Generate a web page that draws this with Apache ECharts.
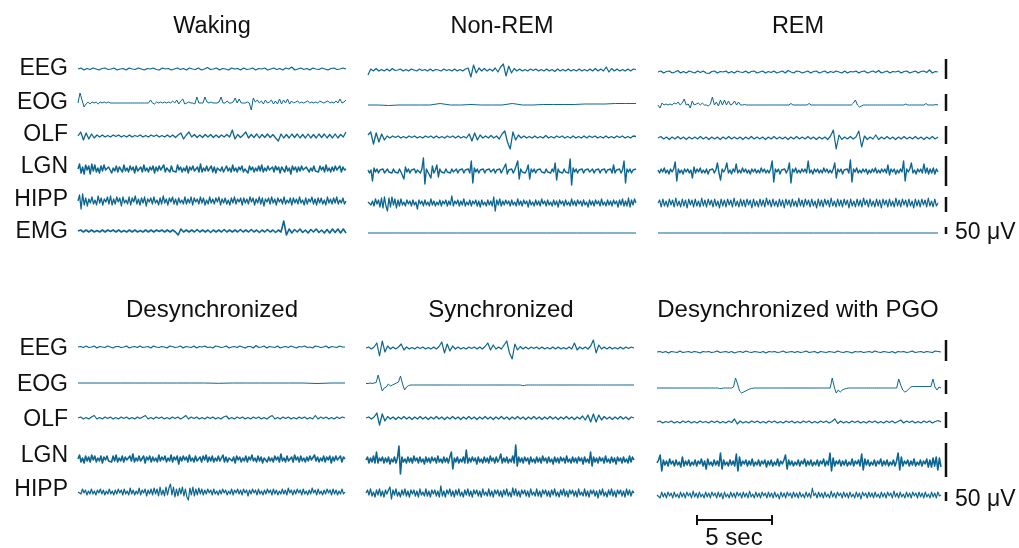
<!DOCTYPE html>
<html><head><meta charset="utf-8">
<script src="https://cdn.jsdelivr.net/npm/echarts@6.0.0/dist/echarts.min.js"></script>
<style>html,body{margin:0;padding:0;background:#fff}#c{width:1019px;height:548px}</style>
</head><body><div id="c"></div>
<script>
// ---------- DATA (amplitude units; scale bars below are in the same units) ----------
const topTitles = ['Waking', 'Non-REM', 'REM'];
const botTitles = ['Desynchronized', 'Synchronized', 'Desynchronized with PGO'];
const topChannels = ['EEG', 'EOG', 'OLF', 'LGN', 'HIPP', 'EMG'];
const botChannels = ['EEG', 'EOG', 'OLF', 'LGN', 'HIPP'];
const ampUnit = '50 \u03bcV';
const timeUnit = '5 sec';
const timeBarSec = 5;

// Waking
const W_EEG = [0,1,-1,0.5,-0.5,1,0,-1,0.5,1,-0.5,0,1,-1,0,0.5,-1,1,0,-0.5,1,0,-1,0.5,0,1,-0.5,-1,1,0,0.5,-1,0,1,-0.5,0.5,-1,1,0,-0.5,1,-1,0,1.5,-0.5,0,1,-1,0.5,0,-1,1,0,0.5,-1,1,-0.5,0,1,-1,0.5,0,1,-1,0,1,-0.5,0.5,-1,1,0,2,-1,0,1,-0.5,0.5,-1,1,0,-0.5,1,0,-1,0.5,1,-0.5,0,1,0];
const W_EOG = [0,10,3,-4,-1,1,-1,1,0,1,-1,1,0,1,0,1,0,0,0,0,0,0,0,0,0,0,0,0,0,0,0,0,0,0,0,0,3,0,-1,1,0,1,0,1,0,1,0,2,0,3,-1,2,4,-1,0,1,0,0,-1,6,0,0,0,6,1,0,1,0,0,0,1,6,0,0,2,0,0,1,5,0,4,0,0,0,1,0,-7,5,1,3,0,2,-1,3,0,1,3,-1,2,-1,4,-1,3,0,4,-1,2,0,1,2,0,1,0,1,2,0,1,0,1,0,2,1,0,1,2,0,1,0,2,0,4,0,1,3];
const W_OLF = [0,4,-4,3,-3,2,-2,1,-1,1,-1,0.5,-1,1,-0.5,1,-1,0.5,-1,1,-1,0.5,-0.5,1,-1,0.5,-1,1,-0.5,1,-1,0.5,-1,1,-1,1,-1.5,1,3,-3,1,4,-1,1.5,-1.5,1,-1.5,1.5,-1,1.5,-1.5,1,-1.5,1,-1,1.5,-1,6,-3,1.5,-1.5,1,4,-2,1.5,-1.5,2,-2,1.5,-1.5,2,-1.5,1.5,-2,-5,2,-2,1.5,-2,2,-1.5,2,-2,1.5,-2,2,-2,1.5,-2,2,-1.5,2,-2,1.5,-2,2,-2,1.5,-1,4];
const W_LGN = [0,5,-4,2,-5,4,-1,3,-5,5,-2,4,-3,1,-4,3,-2,4,-1,-3,2,3,-4,1,-2,3,-3,2,0,-3,4,-2,1,-3,3,-1,2,-4,3,-2,0,2,-3,4,-2,1,-3,2,-1,3,-4,2,-2,3,-1,-2,4,-3,1,2,-3,3,-2,0,-3,4,-1,2,-3,1,-2,3,-4,2,-1,3,-2,0,2,-3,5,-3,1,-2,3,-2,-1,3,-3,2,-4,1,3,-2,2,-3,0,3,-2,1,-3,4,-2,1,-3,2,-1,3,-3,0,2,-4,3,-1,2,-3,1,-2,3,-2,4,-3,1,-2,3,-1,-2,2,-3,3,-1,2,-4,2,0,-3,3,-2,1,-5,3,-1,2,-3,2,-2,3,-1,-3,2,4,-3,1,-2,3,-2,0,-3,3,-1,2,-3,4,-2,1,-3,2,-2,3,-1,-2,3,-3,2,-1,0];
const W_HIPP = [0,6,-8,7,-4,3,-5,2,-2,4,-3,1,-4,5,-2,3,-4,2,-1,4,-3,5,-4,2,-3,4,-1,3,-5,4,-2,1,-3,4,-4,3,-1,5,-3,2,-4,3,-2,4,-5,2,-1,3,-3,4,-2,1,-4,3,-3,5,-2,2,-4,3,-1,4,-3,2,-4,3,-2,1,-3,4,-3,2,-2,4,-4,3,-1,2,-3,4,-2,3,-4,1,-3,4,-2,2,-3,3,-1,4,-4,2,-2,3,-3,1,-4,3,-2,4,-3,2,-1,3,-4,3,-2,2,-3,4,-1,3,-4,2,-2,4,-3,3,-5,2,-1,3,-3,4,-2,2,-4,3,-1,2,-3,4,-3,1,-2,3,-4,3,-2,2,-3,4,-2,1,-4,3,-3,2,-1,4,-3,2,-4,3,-2,3,-3,1,-4,4,-2,2,-3,3,-2,4,-3,1,-2,3,-3,0];
const W_EMG = [0,1,-1,1,-1,1,-1,0.5,-1,1,-1,1,-0.5,1,-1,1,-1,0.5,-1,1,-1,1,-1,0.5,-1,1,-1,1,-1,1,-0.5,1,-1,1,-1,1,-1,-4,2,-1,1,-1,1,-1,1.5,-1,1,-1,1,-1.5,1,-1,1,-1,1.5,-1,1,-1,1,-1,1.5,-1,1,-1,1.5,-1,1,-1.5,1,-1,1.5,-1,1,-1.5,1,-1,10,-4,2,-2,1.5,-1,2,-1.5,1,-2,1.5,-1,2,-1.5,1,-2,1.5,-2,2,-1.5,2,-2,2,-2];

// Non-REM
const N_EEG = [-5,1,-1,1.5,-1,0.5,-1,1,-1,1.5,-0.5,0,1,-1,0.5,-1,1,0,-1,1,-0.5,0.5,-1,1,-1,0.5,0,-1,1,-0.5,0.5,-1,1,-1,0.5,-1,1,2,-7,5,-3,2,-1,1.5,-1,1,-1,2,-2,3,6,-6,4,-3,1.5,-1,1,-1,0.5,-1,1,-0.5,1,-1,0.5,-1,1,-1,0.5,-1.5,1,-1,0.5,-1,1,-1,0.5,-1,1,-1,0.5,-1,1,-1,1.5,-1,1,-1,3,-2,1.5,-1,1,-1,0.5,-1,1,-1,1,0.5];
const N_EOG = [0,0,-0.5,0,0,0,0,1.5,0,0,0.5,0,0,0,1.5,0,0,0.5,0.5,0.5,0.5,1,1,1,1.5,1.5,1.5];
const N_OLF = [2,5,-7,4,-5,3,-3,1,-1,1,-0.5,1,-1,0.5,-1,1,-0.5,1,-1,0.5,-1,1,-0.5,1,-1,1,-1,0.5,-1,1,-0.5,1,-1,1,-1,0.5,-1,3,-4,4,-3,2,-1,1,-1,1.5,-1,1,-2,3,6,-5,-12,5,-3,2,-1,1,-1,0.5,-1,1,-1,0.5,-1,1.5,-1,0.5,-1,1,-0.5,1,-1,0.5,-1,1,-1,0.5,-1,1,-1,1,-0.5,1,-1,0.5,-1,1,-1,0.5,-1,1,-0.5,1,-1,0.5,-1,1,0.5];
const N_LGN = [1,-2,1,-10,3,-1,2,-2,1,-1, 2,-2,0,2,-1,1,-2,2,-1,1, -2,2,-1,1,-8,4,-1,2,-2,1, -1,2,-2,1,0,-2,2,13,-13,2, -1,1,-7,5,-2,1,6,-6,2,-1, 1,-2,2,-1,1,-2,2,-1,0,2, -2,1,-1,2,-2,1,-1,2,-2,10, -12,3,-1,2,-2,1,-1,2,-2,1, -1,2,-1,0,2,-2,1,-1,2,-2, 1,-1,7,-3,1,-1,2,-2,1,-1, 10,-8,2,-1,1,-2,1,6,-8,2, -1,2,-2,1,-1,2,-1,1,-2,2, -1,1,-2,2,-1,8,-9,2,-1,1, -2,2,-1,1,-2,12,-14,3,-1,2, -2,1,-1,2,-2,1,-1,2,-1,0, 2,-2,1,-1,2,-2,1,-1,2,-2, 1,-1,2,-2,6,-2,1,-1,2,-2, 1,10,-12,2,-1,2,-2,1,-1,2];
const N_HIPP = [1,3,-2,2,-3,4,-1,3,-4,5, -5,6,-3,-8,5,-4,6,-2,4,-5, 3,-3,4,-2,1,-3,3,-1,2,-3, 3,-2,1,-6,3,-1,2,-3,3,-2, 1,-3,4,-2,2,-3,1,-2,3,-3, 2,-1,3,-3,2,-2,7,-3,2,-1, 3,-3,2,-2,4,-3,1,-2,3,-3, 2,-1,3,-3,2,-4,3,-2,1,-3, 3,-2,2,-3,6,-8,3,-2,4,-3, 2,-2,3,-1,2,-3,3,-2,1,-3, 4,-2,2,-3,3,-1,2,-4,3,-2, 1,-3,3,-2,2,-3,4,-1,2,-3, 3,-2,1,-3,3,-2,2,-4,3,-1, 2,-3,3,-2,1,-3,4,-2,2,-3, 3,-1,2,-3,3,-2,1,-4,3,-2, 2,-3,3,-1,2,-3,4,-2,1,-3, 3,-2,2,-3,3,-1,2,-4,3,-2, 4,-3,2,-3,5,-4,3,-2,4,0];
const N_EMG = [0,0,0,0,0,0,0,0,0,0];

// REM
const R_EEG = [0,1,-1,0.5,1,-1,0,1.5,-1,0.5,-1,1,0,-1,1,-0.5,1,-1,-1.5,0.5,1,-1,0.5,0,1,-1,0.5,-1,1,0,-0.5,1,-1,0.5,1,-1,0,1,-1,0.5,-0.5,1,-1,0,1,-1,1.5,0,-1,1,0.5,-1,0,1,-1,0.5,1,-1,0,1,-1,0.5,-0.5,1,0,-1,1,-1,0.5,0,1,-1,0.5,1,-1,0,1,-0.5,1.5,-1,0,1,-1,0.5,0,1,-1,0.5,1,-1,0,1,-1,0.5,1,-0.5,2,-1,0.5,0];
const R_EOG = [0,-3,2,0,1,0,1,0,2,1,3,0,2,6,0,1,-3,4,0,1,2,0,2,0,0,-1,1,8,0,3,-1,5,0,5,0,4,0,1,4,0,3,0,0,0.5,0,0,0,0,0,0,0,0,0,0,0,0,0,0,0,0,0,0,0,0,0,0,1.5,0,0,0,0,0,0,0,0,1.5,0,0,0,0,0,0,0,0,0,0,0,0,0,0,0,0,0,0,0,0,0,2,5,0,-2,-1,0,0,0,0,0,0,0,0,0,0,0,0,0,0,0,0,0,0,0,0,0,1,0,0,0,0,0,0,0,0,0,1.5,0,0,0,0,0.5,0];
const R_OLF = [0,1.5,-1,1,-1.5,1,-1,1.5,-1,1,-1.5,1,-1,1,-1,1.5,-1,1,-1.5,1,-1,1,-1.5,1,-1,1.5,-1,1,-1,1,-1.5,1,-1,1.5,-1,1,-1,1,-1.5,1,-1,1.5,-1,1,-1,1,-1.5,1,-1,1.5,-1,1,-1,1.5,-1,1,-1.5,1,-1,1,-1.5,2,8,-11,3,-1.5,1,-1,1.5,-1,1,7,-9,2,-1.5,1,-1,3,-1.5,1,-1,1.5,-1,1,-1.5,1,-1,1.5,-1,1,-1,1.5,-1,1,-1.5,1,-1,1.5,-1,1];
const R_LGN = [1,-2,2,-1,3,-2,1,-3,2,-1, 2,9,-10,2,-2,1,-3,2,-1,2, -2,1,-7,4,-2,2,-1,3,-2,1, -2,2,-3,1,-1,2,-2,1,8,-2, -9,2,-1,2,8,-2,1,-3,2,-1, 7,-2,1,-2,3,-1,2,-2,1,-3, 2,-1,2,-2,1,-2,3,-1,2,-2, 1,-2,2,10,-11,2,-1,2,-3,1, -1,2,-2,1,8,-12,2,-1,3,-2, 1,-2,2,-1,2,-2,10,-2,1,-3, 2,-1,2,-2,1,-2,3,-1,2,-2, 1,-2,2,8,-7,2,-1,2,-3,1, -1,2,-2,11,-11,2,-1,3,-2,1, -2,2,-1,2,-3,1,-2,2,-1,3, -2,1,-2,2,-1,2,-2,6,-4,2, -1,2,-3,1,-2,2,-1,10,-10,2, -1,2,8,-2,1,-3,2,-1,2,-2, 7,-2,3,-3,2,-2,3,-3,2,-1];
const R_HIPP = [0,3,-4,4,-3,2,-4,4,-2,3,-4,5,-3,2,-4,4,-3,3,-5,4,-2,3,-4,4,-3,2,-4,5,-3,3,-4,4,-2,3,-4,4,-3,2,-5,4,-3,3,-4,4,-2,3,-4,5,-3,2,-4,4,-3,3,-4,4,-2,3,-5,4,-3,2,-4,4,-3,3,-4,5,-2,3,-4,4,-3,2,-4,4,-3,3,-5,4,-2,3,-4,4,-3,2,-4,5,-3,3,-4,4,-2,3,-4,4,-3,2,-5,4,-3,3,-4,4,-2,3,-4,5,-3,2,-4,4,-3,3,-4,4,-2,3,-5,4,-3,2,-4,4,-3,3,-4,5,-2,3,-4,4,-3,2,-4,4,-3,3,-5,4,-2,3,-4,4,-3,2,-4,5,-3,3,-4,4,-2,3,-4,4,-3,2,-5,4,-3,3,-4,4,-2,3,-4,5,-3,2,-4,4,-3,0];
const R_EMG = [0,0,0,0,0,0,0,0,0,0];

// Desynchronized
const D_EEG = [0,0.5,-0.5,1,-0.5,0,1,-1,0.5,0,-0.5,1,0,-1,0.5,0.5,-0.5,0,1,-1,0,0.5,-0.5,1,-0.5,0,0.5,-1,1,0,-0.5,0.5,0,-1,1,0.5,-0.5,0,1,-1,0.5,0,-0.5,1,-1,0.5,0,1,-0.5,0,-1,1,0.5,-0.5,0,1,-1,0,0.5,-0.5,1,0,-1,0.5,0.5,-1,1.5,-0.5,0,1,-1,0.5,0,-0.5,1,-1,0,0.5,-0.5,1,0,-1,0.5,0,1,-0.5,0,-1,1,0.5,-0.5,0,1,-1,0.5,0,-0.5,1,0,0];
const D_EOG = [0,0,0,0,0,0,0,0,0,0,-0.3,0,0,0,0,0,0,-0.5,0,0];
const D_OLF = [0,1,-1,0.5,-1,1,2.5,-1,0.5,-1,1,-0.5,1,-1,0.5,-1,1,-0.5,1,-1,0.5,-1,1,-0.5,1,2.5,-1,0.5,-1,1,-0.5,1,-1,0.5,-1,1,-0.5,1,-1,0.5,2.5,-1,1,-0.5,1,-1,0.5,-1,1,-0.5,1,-1,0.5,-1,1,2,-1,0.5,-1,1,-0.5,1,-1,0.5,-1,1,-0.5,1,-1,0.5,-1,1,2.5,-1,0.5,-1,1,-0.5,1,-1,0.5,-1,1,-0.5,1,-1,0.5,-1,2.5,-1,1,-0.5,1,-1,0.5,-1,1,-0.5,1,0];
const D_LGN = [0,4,-3,1,-4,3,-2,2,-3,4,-1,3,-3,1,-2,3,-4,2,-1,3,-2,0,-3,3,-2,4,-3,1,-2,3,-3,2,-1,-3,3,-2,5,-3,1,-2,3,-2,0,3,-4,2,-1,3,-3,2,-2,1,-3,4,-2,2,-1,3,-3,1,-2,4,-3,2,-1,3,-5,2,-2,3,-1,2,-3,4,-2,1,-3,3,-2,0,2,-3,3,-1,4,-3,2,-2,3,-3,1,-2,3,-2,-1,4,-3,2,-3,1,3,-2,2,-4,3,-1,2,-3,1,-2,3,-3,2,-1,4,-2,1,-3,3,-2,2,-4,1,3,-3,2,-2,1,-3,3,-1,2,-3,5,-2,1,-3,3,-2,0,2,-3,4,-1,2,-3,3,-2,1,-3,2,-2,3,-1,-3,4,-2,2,-3,1,-2,3,-3,2,-1,3,-4,2,-2,3,-1,-2,3,-3,2,0];
const D_HIPP = [0,2,-2,3,-1,2,-3,1,-2,3, -2,1,-3,2,-1,3,-2,2,-3,1, -2,3,-2,1,-3,2,-2,3,-1,2, -3,3,-2,1,-3,4,-2,2,-3,1, -2,4,-3,2,-1,3,-4,2,-2,3, -3,4,-2,3,-4,5,-3,2,-4,5, -3,4,8,-3,5,-5,3,-4,4,-2, 5,-4,3,-5,-8,4,-3,5,-4,3, -3,4,-2,3,-3,2,-2,3,-1,2, -3,3,-2,1,-3,2,-2,3,-1,2, -3,1,-2,3,-3,2,-1,3,-2,2, -3,3,-1,2,-4,2,-2,3,-1,2, -3,3,-2,1,-3,2,-2,3,-1,2, -3,3,-2,2,-3,1,-2,3,-2,2, -3,4,-1,2,-3,2,-2,3,-1,2, -3,3,-2,1,-3,2,-2,4,-1,2, -3,3,-2,1,-3,2,-2,3,-1,2, -3,3,-2,2,-3,1,-2,3,-2,0];

// Synchronized
const S_EEG = [0,1,-1,1,5,-8,7,-4,2,-1,1,-1,1,4,-2,1,-1,0.5,-1,1,-0.5,1,-1,0.5,-1,1,-1,1.5,6,-5,4,-3,2,-1,1,-1,0.5,-1,1,-0.5,1,-1,1,-1,1.5,5,-2,3,-1,1,-1,3,7,-5,-11,4,-2,1.5,-1,1,-1,1,-0.5,1,-1,1,-1,0.5,-1,1,-1,1,-1,0.5,-1,1,-1,5,-2,1,-1,1,-1,2,8,-5,3,-1,1,-1,1,-1,0.5,-1,1,-1,1,-0.5,1,0];
const S_EOG = [1.5,1.5,2,1.5,2,2.5,10,2,-6,-3,-2,1,-1,0,1,2,3,9,1,-5,-2,-0.5,0,0,0,0,0,0,0,0,0,0,0,0,0,0,0,0,0,0,0,0,0,0,0,0,0,0,0,0,0,0,0,0,0,0,0,0,0,0,0,0,0,0,0,0,0,0,0,0,0,0,0,0,0,0,0,-0.5,-0.5,0,0,0,0,0,0,0,0,0,0,0,0,0,0,0,0,0,0,0,0,0,0,0,0,0,0,0,0,0,0,0,0,0,0,0,0,0,0,0,0,0,0,0,0,0,0,0,0,0,0,0,0,0,0];
const S_OLF = [0,1,-1,1,5,-7,4,-3,1.5,-1,1,-1.5,1,-1,1.5,-1,1,-1.5,1,-1,1.5,-1,1,-1.5,1,-1,1.5,-1,1,-1.5,1,-1,1.5,-1,1,-1.5,1,-1,1.5,-1,1,-1.5,1,-1,1.5,-1,1,-1.5,1,-1,1.5,-1,1,-1.5,1,-1,1.5,-1,1,-1.5,1,-1,1.5,-1,1,-1.5,1,-1,1.5,-1,1,-1.5,1,-1,1.5,-1,1,-1.5,1,-1,2,-2,3,-4,4,-4,3,-2,1.5,-1,1,-1.5,1,-1,1.5,-1,1,-1.5,1,0];
const S_LGN = [0,3,-3,2,-2,4,-3,8,-3,2, -1,3,-3,2,-2,3,-4,1,-2,3, -3,2,14,-14,3,-2,1,-3,3,-2, 2,-3,4,-1,2,-3,3,-2,1,-4, 3,-2,2,-3,3,-1,2,-3,4,-2, 1,-3,3,-2,2,-3,3,8,-9,2, -2,3,-3,1,-2,3,-3,10,-3,2, -2,3,-1,2,-4,3,-2,1,-3,3, -2,2,-3,4,-1,2,-3,3,-2,1, 6,-3,2,-2,3,-3,1,-2,4,-3, 15,-6,3,-2,2,-3,3,-1,2,-4, 3,-2,1,-3,3,-2,2,-3,4,-1, 2,-3,3,-2,1,-4,3,-2,2,-3, 3,-1,2,-3,4,-2,1,-3,3,-2, 2,-3,3,-1,2,-4,3,-2,1,-3, 8,-6,3,-2,2,-3,3,-1,2,-3, 4,-2,1,-3,3,-2,2,-4,3,-1, 2,-3,3,-2,1,-3,4,-2,3,0];
const S_HIPP = [0,3,-2,4,-3,1,-4,3,-2,4, -3,2,-4,3,-1,3,6,-6,3,-2, 4,-3,1,-4,3,-2,4,-3,2,-4, 3,-1,3,-3,2,-4,4,-2,1,-3, 4,-3,2,-4,3,-1,3,-3,2,-4, 7,-3,2,-4,3,-1,4,-3,2,-4, 3,-2,4,-3,1,-4,3,-2,4,-3, 2,-4,3,-1,3,-3,2,-4,4,-2, 1,-3,4,-3,2,-4,3,-1,3,-3, 2,-4,3,-2,4,-3,1,-4,5,-2, 4,-3,2,-4,3,-1,3,-3,2,-4, 4,-2,1,-3,4,-3,2,-4,3,-1, 3,-3,2,-4,3,-2,4,-3,1,-4, 3,-2,4,-3,2,-4,3,-1,3,-3, 2,-4,4,-2,1,-3,4,-3,2,-4, 3,-1,3,-3,2,-5,3,-2,4,-3, 1,-4,3,-2,4,-3,2,-4,3,-1, 3,-3,2,-4,4,-2,3,-3,2,0];

// Desynchronized with PGO
const P_EEG = [0,0.5,-0.5,0.5,-1,0.5,0,-0.5,1,-0.5,0,0.5,-0.5,0.5,0,-1,0.5,0,0.5,-0.5,0,1,-0.5,0,0.5,-0.5,0.5,-1,0,0.5,-0.5,1,0,-0.5,0.5,0,-0.5,0.5,-1,0.5,0,0.5,-0.5,0,1,-0.5,0,0.5,-0.5,0.5,-0.5,0,1,-0.5,0,0.5,-1,0.5,0,-0.5,0.5,0,-0.5,1,0,-0.5,0.5,0,-1,0.5,0,0.5,-0.5,0,0.5,-0.5,1,0,-0.5,0.5,0,-0.5,0.5,-1,0.5,0,0.5,-0.5,0,1,-0.5,0,0.5,-0.5,0.5,0,-0.5,1,0.5,0];
const P_EOG = [0,0,0,0,0,0,0,0,0,0,0,0,0,0,0,0,0,0,0,0,0,0,0,0,0,0,0,0,0,0,0,-0.5,-0.5,0,0,0,0,0,1,10,4,-3,-5,-4,-3,-2,-1,-0.5,0,0,0,0,0,0,0,0,0,0,0,0,0,0,0,0,0,0,0,0,0,0,0,0,0,0,0,0,0,0,0,0,0,0,0,0,0,0,0,10,1,-5,-2,-4,-2,-1,-0.5,0,0,0,0,0,0,0,0,0,0,0,0,0,0,0,0,0,0,0,0,0,0,0,0,0,9,3,-2,-4,-3,-1,1,1.5,1.5,1.5,1.5,1.5,1.5,1.5,1.5,1.5,1.5,9,1,-2,1,0];
const P_OLF = [0,1,-1,0.5,-0.5,1,-1,0.5,-1,1,-0.5,1,-1,0.5,-1,1,-0.5,0.5,-1,1,-0.5,1,-1,0.5,-1,1,-0.5,3,-2,1,-1,0.5,-1,1,-0.5,1,-1,0.5,-1,1,-0.5,1,-1,0.5,-1,1,-0.5,1,-1,0.5,-1,1,-0.5,1,-1,0.5,-1,1,-0.5,1,-1,0.5,3,-1.5,1,-1,0.5,-1,1,-0.5,1,-1,0.5,-1,1,-0.5,1,-1,0.5,-1,1,-0.5,1,-1,0.5,2,-1,1,-0.5,1,-1,0.5,-1,1,-0.5,1,-1,0.5,1.5,0];
const P_LGN = [0,3,8,-8,3,-2,2,-3,4,-1, 2,-3,3,-2,1,-4,6,-3,2,-2, 3,-3,1,-2,3,-3,2,-1,4,-3, 2,-6,4,-2,1,-3,3,-2,2,-3, 10,-6,3,-2,1,-3,3,-2,2,-3, 9,-8,6,-3,2,-1,3,-3,2,-2, 4,-3,1,-2,3,-3,2,-1,3,-4, 2,-2,3,-3,1,-2,4,-3,2,-1, 3,8,-6,3,-2,2,-3,1,-2,3, -3,2,-1,4,-3,2,-2,3,-3,1, -2,3,-3,2,-1,4,-3,2,-2,10, -8,5,-3,2,-1,3,-3,2,-2,3, -3,1,-2,4,-3,2,-1,3,-3,9, -7,4,-2,3,-3,1,-2,3,-3,2, -1,4,-3,2,-2,3,-3,1,-2,3, -3,2,10,-7,6,-3,2,-1,3,-3, 2,-2,4,-3,1,-2,3,-3,2,-1, 4,-4,3,-4,5,-3,6,-7,5,-4];
const P_HIPP = [0,2,-3,3,-2,2,-3,3,-1,2,-3,3,-2,1,-3,3,-2,2,-3,3,-1,2,-3,4,-2,2,-3,3,-2,1,-3,3,-2,2,-3,3,-1,2,-3,3,-2,2,-4,3,-2,1,-3,3,-2,2,-3,3,-1,2,-3,3,-2,2,-3,4,-2,1,-3,3,-2,2,-3,3,-1,2,-3,3,-2,2,-3,3,-2,1,-4,3,-2,2,-3,3,-1,2,-3,3,-2,2,-3,3,-2,1,-3,3,-2,2,-3,7,-1,2,-3,3,-2,2,-3,3,-2,1,-3,4,-2,2,-3,3,-1,2,-3,3,-2,2,-3,3,-2,1,-3,3,-2,2,-4,3,-1,2,-3,3,-2,2,-3,3,-2,1,-3,3,-2,2,-3,3,-1,2,-3,4,-2,2,-3,3,-2,1,-3,3,-2,2,-3,3,-1,2,-3,3,-2,2,-3,3,-2,1,-3,3,-2,2,-3,3,-1,0];

// 50 uV calibration bars per channel (low, high), same amplitude units
const topBarLo = [-7, -6, -6, -15, -9, -1];
const topBarHi = [13, 11, 12, 15, 6, 6];
const botBarLo = [-9, -6, -6, -14, -6];
const botBarHi = [12, 8, 10, 20, 3];

// ---------- LAYOUT / STYLE ----------
const TRACE = '#0d6690';
const INK = '#111111';
const FAM = '"Liberation Sans", Arial, Helvetica, sans-serif';
const topData = [[W_EEG, W_EOG, W_OLF, W_LGN, W_HIPP, W_EMG],
                 [N_EEG, N_EOG, N_OLF, N_LGN, N_HIPP, N_EMG],
                 [R_EEG, R_EOG, R_OLF, R_LGN, R_HIPP, R_EMG]];
const botData = [[D_EEG, D_EOG, D_OLF, D_LGN, D_HIPP],
                 [S_EEG, S_EOG, S_OLF, S_LGN, S_HIPP],
                 [P_EEG, P_EOG, P_OLF, P_LGN, P_HIPP]];
const topLineW = [[1.2, 1, 1.3, 1.5, 1.3, 1.6], [1.2, 1, 1.3, 1.4, 1.3, 1], [1.2, 1, 1.2, 1.4, 1.2, 1]];
const botLineW = [[1.2, 1, 1.2, 1.6, 1.2], [1.2, 1, 1.3, 1.6, 1.3], [1.2, 1, 1.2, 1.6, 1.1]];
const topCols = [[78, 268], [368, 268], [658, 280]];
const botCols = [[78, 267], [366, 268], [657, 284]];
const topBase = [[69,103,136,169,201,231],[70,105,137,171,203,233],[72,105,138,171,203,233]];
const botBase = [[347,383,418,459,492],[348,385,418,460,493],[352,388,422,463,495]];
const topTitleX = [212, 502, 798], topTitleY = 27;
const botTitleX = [212, 501, 798], botTitleY = 310;
const topLabelY = [68.5, 102.5, 135, 167, 200, 232];
const botLabelY = [348.5, 385, 420, 456, 490];
const HALF = 30;

const grids = [], xAxes = [], yAxes = [], series = [], graphic = [];

function addGrid(g, x, y) {
  const gi = grids.length;
  grids.push(Object.assign({ containLabel: false }, g));
  xAxes.push(Object.assign({ gridIndex: gi, show: false }, x));
  yAxes.push(Object.assign({ gridIndex: gi, show: false }, y));
  return gi;
}
function addTrace(left, width, base, data, lw) {
  const gi = addGrid({ left: left, width: width, top: base - HALF, height: 2 * HALF },
    { type: 'category', data: data.map((_, i) => i), boundaryGap: false },
    { type: 'value', min: -HALF, max: HALF });
  series.push({ type: 'line', xAxisIndex: gi, yAxisIndex: gi, data: data, symbol: 'none',
    lineStyle: { width: lw, color: TRACE, join: 'round' }, silent: true, animation: false });
}
function addBar(base, lo, hi) {
  const gi = addGrid({ left: 944, width: 4, top: base - HALF, height: 2 * HALF },
    { type: 'value', min: -1, max: 1 },
    { type: 'value', min: -HALF, max: HALF });
  series.push({ type: 'line', xAxisIndex: gi, yAxisIndex: gi, data: [[0, lo], [0, hi]], symbol: 'none',
    lineStyle: { width: 2.5, color: INK, cap: 'butt' }, silent: true, animation: false });
}
function text(t, x, y, align, size) {
  graphic.push({ type: 'text', x: x, y: y, silent: true,
    style: { text: t, fill: INK, font: size + 'px ' + FAM, textAlign: align, textVerticalAlign: 'middle', verticalAlign: 'middle' } });
}

topData.forEach((col, c) => col.forEach((d, r) => addTrace(topCols[c][0], topCols[c][1], topBase[c][r], d, topLineW[c][r])));
botData.forEach((col, c) => col.forEach((d, r) => addTrace(botCols[c][0], botCols[c][1], botBase[c][r], d, botLineW[c][r])));
topBarLo.forEach((lo, r) => addBar(topBase[2][r], lo, topBarHi[r]));
botBarLo.forEach((lo, r) => addBar(botBase[2][r], lo, botBarHi[r]));

// 5 sec time bar
const tg = addGrid({ left: 697, width: 75, top: 510, height: 20 },
  { type: 'value', min: 0, max: timeBarSec },
  { type: 'value', min: -2, max: 2 });
series.push({ type: 'line', xAxisIndex: tg, yAxisIndex: tg,
  data: [[0, 1], [0, -1], [0, 0], [timeBarSec, 0], [timeBarSec, 1], [timeBarSec, -1]],
  symbol: 'none', lineStyle: { width: 2, color: INK }, silent: true, animation: false });

topTitles.forEach((t, i) => text(t, topTitleX[i], topTitleY, 'center', 23.5));
botTitles.forEach((t, i) => text(t, botTitleX[i], botTitleY, 'center', 24));
topChannels.forEach((t, i) => text(t, 68, topLabelY[i], 'right', 23));
botChannels.forEach((t, i) => text(t, 68, botLabelY[i], 'right', 23));
text(ampUnit, 955, 233, 'left', 23);
text(ampUnit, 955, 500, 'left', 23);
text(timeUnit, 734, 538, 'center', 24);

const chart = echarts.init(document.getElementById('c'), null, { renderer: 'canvas' });
chart.setOption({ animation: false, backgroundColor: '#ffffff', grid: grids, xAxis: xAxes, yAxis: yAxes, series: series, graphic: graphic });
</script></body></html>
